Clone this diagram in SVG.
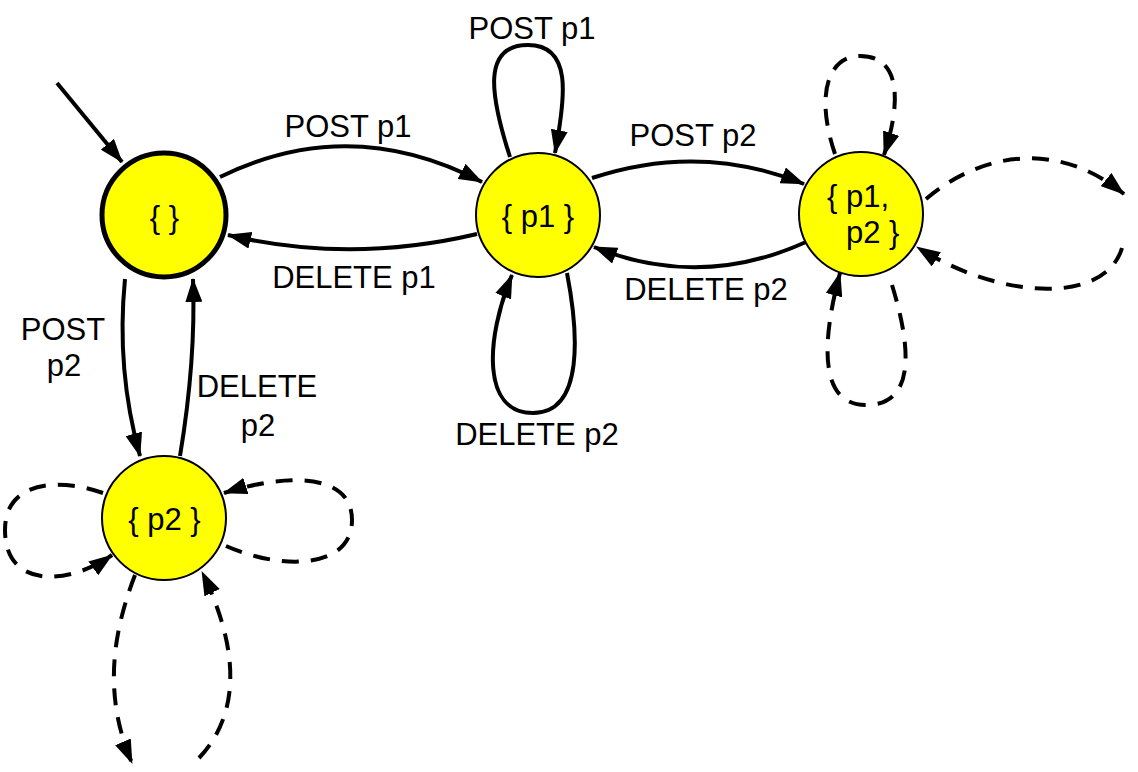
<svg xmlns="http://www.w3.org/2000/svg" width="1138" height="772" viewBox="0 0 1138 772">
<defs>
<marker id="ah" viewBox="0 0 24 17" refX="23" refY="8.5" markerWidth="24" markerHeight="17" orient="auto" markerUnits="userSpaceOnUse">
<path d="M0,0 L24,8.5 L0,17 z" fill="#000"/>
</marker>
</defs>
<style>
.edge{fill:none;stroke:#000;stroke-width:4;marker-end:url(#ah)}
.dash{fill:none;stroke:#000;stroke-width:4;stroke-dasharray:17 12}
.dasharrow{marker-end:url(#ah)}
.node{fill:#ffff00;stroke:#000;stroke-width:2}
.start{stroke-width:5}
text{font-family:"Liberation Sans",Arial,Helvetica,sans-serif;font-size:31px;fill:#000}
.lbl{text-anchor:middle}
</style>
<rect width="1138" height="772" fill="#fff"/>
<g id="connectors">
<path class="edge" d="M57,83 L122,162"/>
<path class="edge" d="M220,177 Q350,113 482,182"/>
<path class="edge" d="M477,234 Q350,264 228,235"/>
<path class="edge" d="M592,178 Q700,142 804,184"/>
<path class="edge" d="M806,242 Q700,290 594,247"/>
<path class="edge" d="M510,157 C490,95 482,45 528,45 C572,45 566,95 555,153"/>
<path class="edge" d="M567,273 C578,330 585,413 533,413 C482,413 485,340 512,275"/>
<path class="edge" d="M125,279 Q116,370 140,456"/>
<path class="edge" d="M180,456 Q196,360 193,279"/>
<path class="dash dasharrow" d="M835,154 C815,95 828,56 860,56 C900,56 902,100 884,155"/>
<path class="dash dasharrow" d="M926,199 C965,165 1045,130 1124,194"/>
<path class="dash dasharrow" d="M1122,248 C1105,305 1000,300 917,247"/>
<path class="dash dasharrow" d="M892,285 C912,350 915,405 866,405 C818,405 822,340 840,273"/>
<path class="dash dasharrow" d="M103,493 C60,478 5,480 5,530 C5,590 70,585 112,555"/>
<path class="dash dasharrow" d="M226,546 C280,570 352,570 352,520 C352,470 280,475 224,493"/>
<path class="dash dasharrow" d="M135,575 C110,640 105,700 132,763"/>
<path class="dash dasharrow" d="M199,758 C235,720 245,660 202,572"/>
</g>
<g id="labels">
<text class="lbl" x="348" y="137">POST p1</text>
<text class="lbl" x="354" y="288">DELETE p1</text>
<text class="lbl" x="693" y="146">POST p2</text>
<text class="lbl" x="706" y="300">DELETE p2</text>
<text class="lbl" x="532" y="39">POST p1</text>
<text class="lbl" x="537" y="445">DELETE p2</text>
<text class="lbl" x="63" y="340">POST</text>
<text class="lbl" x="64" y="376">p2</text>
<text class="lbl" x="257" y="397">DELETE</text>
<text class="lbl" x="258" y="436">p2</text>
</g>
<g id="node-empty">
<circle class="node start" cx="164" cy="215" r="62"/>
<text class="lbl" x="164.5" y="228">{ }</text>
</g>
<g id="node-p1">
<circle class="node" cx="538" cy="215" r="62"/>
<text class="lbl" x="538" y="227">{ p1 }</text>
</g>
<g id="node-p1p2">
<circle class="node" cx="861" cy="214" r="62"/>
<text x="827" y="207">{ p1,</text>
<text x="846" y="243">p2 }</text>
</g>
<g id="node-p2">
<circle class="node" cx="164" cy="518" r="62"/>
<text class="lbl" x="164.5" y="530">{ p2 }</text>
</g>
</svg>
